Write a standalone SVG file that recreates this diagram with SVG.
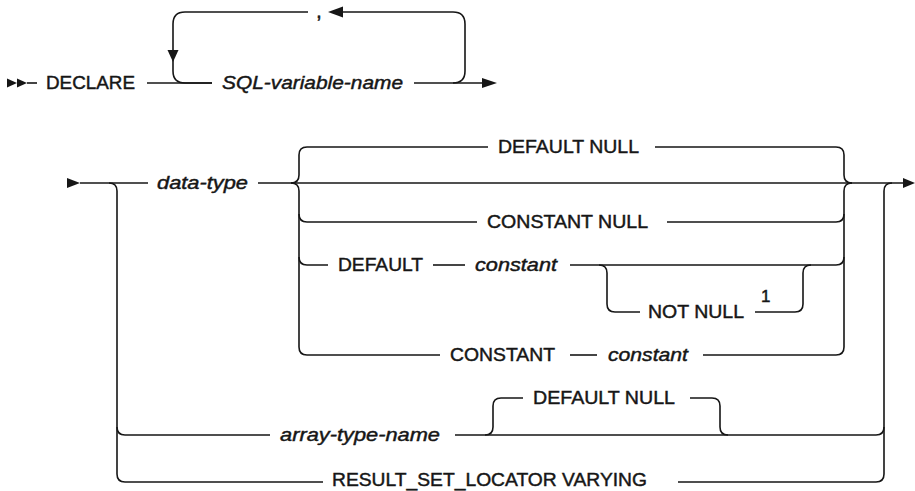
<svg xmlns="http://www.w3.org/2000/svg" width="915" height="491" viewBox="0 0 915 491">
<style>
  .c { fill: none; stroke: #161616; stroke-width: 1.6; }
  .a { fill: #161616; stroke: none; }
  text { font-family: "Liberation Sans", Arial, sans-serif; font-size: 19px; fill: #161616; stroke: #161616; stroke-width: 0.45; }
  .i { font-style: italic; }
</style>
<rect width="915" height="491" fill="#ffffff"/>
<g id="connectors">
  <!-- row 1 -->
  <polygon class="a" points="7,78.5 17,83 7,87.5"/>
  <polygon class="a" points="17,78.5 27,83 17,87.5"/>
  <path class="c" d="M27 83 H37"/>
  <path class="c" d="M147 83 H212"/>
  <path class="c" d="M308 12 H185 Q173 12 173 24 V52"/>
  <polygon class="a" points="167.5,50 178.5,50 173,62"/>
  <path class="c" d="M173 60 V71 Q173 83 185 83 H212"/>
  <path class="c" d="M414 83 H482"/>
  <polygon class="a" points="482,78 497,83 482,88"/>
  <path class="c" d="M453 83 Q465 83 465 71 V24 Q465 12 453 12 H341"/>
  <polygon class="a" points="328,12 343,6.5 343,17.5"/>
  <!-- row 2 -->
  <polygon class="a" points="67,178 80,183 67,188"/>
  <path class="c" d="M80 183 H148"/>
  <path class="c" d="M258 183 H904"/>
  <polygon class="a" points="903,178 915,183 903,188"/>
  <path class="c" d="M109 183 Q117 183 117 191 V474 Q117 482 125 482 H323"/>
  <path class="c" d="M117 427 Q117 435 125 435 H270"/>
  <path class="c" d="M291 183 Q299 183 299 175 V155 Q299 147 307 147 H488"/>
  <path class="c" d="M291 183 Q299 183 299 191 V347 Q299 355 307 355 H440"/>
  <path class="c" d="M299 214 Q299 222 307 222 H477"/>
  <path class="c" d="M299 257 Q299 265 307 265 H328"/>
  <path class="c" d="M655 147 H836 Q844 147 844 155 V175 Q844 183 852 183"/>
  <path class="c" d="M667 222 H836 Q844 222 844 214"/>
  <path class="c" d="M433 265 H465"/>
  <path class="c" d="M570 265 H836 Q844 265 844 257"/>
  <path class="c" d="M599 265 Q607 265 607 273 V304 Q607 312 615 312 H640"/>
  <path class="c" d="M755 312 H795 Q803 312 803 304 V273 Q803 265 811 265"/>
  <path class="c" d="M570 355 H597"/>
  <path class="c" d="M703 355 H836 Q844 355 844 347 V191 Q844 183 852 183"/>
  <path class="c" d="M455 435 H876 Q884 435 884 427"/>
  <path class="c" d="M485 435 Q493 435 493 427 V406 Q493 398 501 398 H523"/>
  <path class="c" d="M690 398 H712 Q720 398 720 406 V427 Q720 435 728 435"/>
  <path class="c" d="M678 482 H876 Q884 482 884 474 V191 Q884 183 892 183"/>
</g>
<g id="n-declare"><text x="46" y="89" textLength="89" lengthAdjust="spacingAndGlyphs">DECLARE</text></g>
<g id="n-sqlvar"><text class="i" x="222" y="89" textLength="181" lengthAdjust="spacingAndGlyphs">SQL-variable-name</text></g>
<g id="n-comma"><text x="316" y="18" style="font-size:21px">,</text></g>
<g id="n-datatype"><text class="i" x="157" y="189" textLength="91" lengthAdjust="spacingAndGlyphs">data-type</text></g>
<g id="n-defaultnull1"><text x="498" y="153" textLength="141" lengthAdjust="spacingAndGlyphs">DEFAULT NULL</text></g>
<g id="n-constantnull"><text x="487" y="228" textLength="161" lengthAdjust="spacingAndGlyphs">CONSTANT NULL</text></g>
<g id="n-default"><text x="338" y="271" textLength="85" lengthAdjust="spacingAndGlyphs">DEFAULT</text></g>
<g id="n-constant1"><text class="i" x="475" y="271" textLength="82" lengthAdjust="spacingAndGlyphs">constant</text></g>
<g id="n-notnull"><text x="648" y="318" textLength="96" lengthAdjust="spacingAndGlyphs">NOT NULL</text><text x="761" y="302" style="font-size:17px">1</text></g>
<g id="n-constantkw"><text x="450" y="361" textLength="105" lengthAdjust="spacingAndGlyphs">CONSTANT</text></g>
<g id="n-constant2"><text class="i" x="608" y="361" textLength="80" lengthAdjust="spacingAndGlyphs">constant</text></g>
<g id="n-arraytype"><text class="i" x="280" y="441" textLength="160" lengthAdjust="spacingAndGlyphs">array-type-name</text></g>
<g id="n-defaultnull2"><text x="533" y="404" textLength="142" lengthAdjust="spacingAndGlyphs">DEFAULT NULL</text></g>
<g id="n-resultset"><text x="332" y="486" textLength="315" lengthAdjust="spacingAndGlyphs">RESULT_SET_LOCATOR VARYING</text></g>
</svg>
